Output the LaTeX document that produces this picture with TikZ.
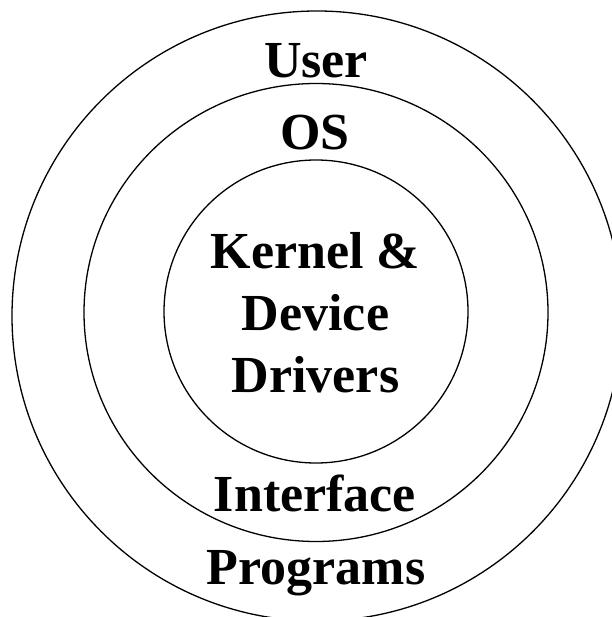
\documentclass[tikz,border=0pt]{standalone}
\usepackage{fontspec}
\setmainfont{Liberation Serif}
\usetikzlibrary{shapes.geometric}
\begin{document}
\begin{tikzpicture}[x=1pt,y=-1pt,
  ring/.style={ellipse, draw=black, line width=1.3pt, inner sep=0pt},
  layer/.style={font=\fontsize{52}{62}\selectfont\bfseries, inner sep=0pt, anchor=base, text=black},
  core/.style={font=\fontsize{52}{62}\selectfont\bfseries, inner sep=0pt, align=center, text=black}]
  \useasboundingbox[fill=white] (0,0) rectangle (611,617);
  % nested layers
  \node[ring, minimum width=610pt, minimum height=610pt] (outer) at (317,316) {};
  \node[ring, minimum width=464pt, minimum height=458pt] (middle) at (316,312.5) {};
  \node[ring, minimum width=304pt, minimum height=303pt] (inner) at (316,311.5) {};
  % labels
  \node[layer] (user) at (316,78) {User};
  \node[layer] (os) at (315,150) {OS};
  \node[core] (kernel) at (315.5,312.8) {Kernel \&\\Device\\Drivers};
  \node[layer] (iface) at (315,511) {Interface};
  \node[layer] (progs) at (316,584) {Programs};
\end{tikzpicture}
\end{document}
